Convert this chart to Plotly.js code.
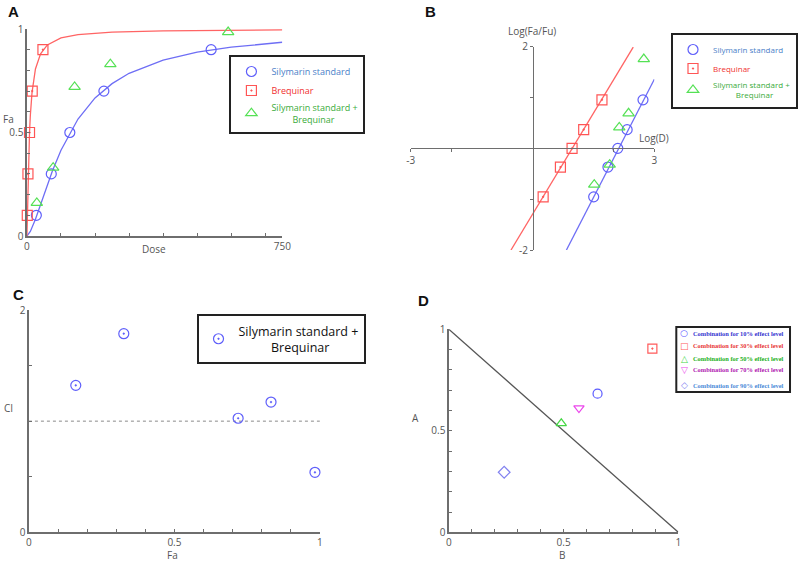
<!DOCTYPE html>
<html>
<head>
<meta charset="utf-8">
<script src="https://cdn.plot.ly/plotly-3.0.1.min.js"></script>
<style>html,body{margin:0;padding:0;background:#fff;}#chart{width:798px;height:561px;}</style>
</head>
<body>
<div id="chart"></div>
<script>
// ---------- Panel A: dose-effect ----------
const doseSil = [27.6, 71.5, 126, 226, 541];
const faSil = [0.1, 0.3, 0.5, 0.7, 0.9];
const doseBreq = [1, 3, 7.6, 15.5, 47];
const faBreq = [0.1, 0.3, 0.5, 0.7, 0.9];
const doseCombo = [29, 77, 140, 245, 591];
const faCombo = [0.16, 0.33, 0.72, 0.83, 0.985];
const curveDoseSil = [0, 10, 25, 50, 75, 100, 150, 200, 250, 300, 400, 500, 600, 750];
const curveFaSil = [0, 0.022, 0.081, 0.2, 0.315, 0.414, 0.565, 0.667, 0.736, 0.786, 0.85, 0.888, 0.912, 0.936];
const curveDoseBreq = [0, 0.5, 1, 2, 3, 5, 7.6, 10, 15, 25, 40, 60, 100, 150, 250, 400, 550, 750];
const curveFaBreq = [0, 0.037, 0.081, 0.168, 0.247, 0.377, 0.5, 0.582, 0.694, 0.807, 0.88, 0.923, 0.957, 0.973, 0.985, 0.991, 0.994, 0.996];

// ---------- Panel B: median-effect plot ----------
const logDSil = [1.506, 1.857, 2.10, 2.33, 2.72];
const logFaFuSil = [-0.954, -0.368, 0, 0.368, 0.954];
const logDBreq = [0.262, 0.687, 0.974, 1.26, 1.71];
const logFaFuBreq = [-0.954, -0.368, 0, 0.368, 0.954];
const logDCombo = [1.52, 1.90, 2.136, 2.365, 2.74];
const logFaFuCombo = [-0.715, -0.32, 0.413, 0.689, 1.757];
const fitLineXBreq = [-0.53, 2.48];
const fitLineYBreq = [-2, 1.99];
const fitLineXSil = [0.835, 3.0];
const fitLineYSil = [-2, 1.36];

// ---------- Panel C: CI vs Fa ----------
const faC = [0.161, 0.326, 0.719, 0.832, 0.983];
const ciC = [1.322, 1.787, 1.026, 1.172, 0.54];
const ciRefX = [0, 1];
const ciRefY = [1, 1];

// ---------- Panel D: isobologram ----------
const isoNames = ['Combination for 10% effect level', 'Combination for 30% effect level',
  'Combination for 50% effect level', 'Combination for 70% effect level', 'Combination for 90% effect level'];
const isoB = [0.648, 0.887, 0.49, 0.567, 0.241];
const isoA = [0.683, 0.905, 0.537, 0.612, 0.296];
const isoLineB = [0, 1];
const isoLineA = [1, 0];

// ---------- styling ----------
const W = 798, H = 561;
const px = x => x / W;
const py = y => 1 - y / H;
const BLUE = 'rgb(95,95,250)', RED = 'rgb(255,85,85)', GREEN = 'rgb(85,225,85)';
const AXC = '#6e6e6e';
const TICKF = {family: 'Open Sans', size: 10, color: '#555'};

function ticks(vals, labelled) {
  return {tickmode: 'array', tickvals: vals,
    ticktext: vals.map(v => labelled.includes(v) ? String(v) : '')};
}
function axis(extra) {
  return Object.assign({showline: true, linecolor: AXC, linewidth: 1.5, ticks: 'inside', ticklen: 3,
    tickcolor: AXC, tickwidth: 1, showgrid: false, zeroline: false, tickfont: TICKF, fixedrange: true}, extra);
}
const tenth = [0, 0.1, 0.2, 0.3, 0.4, 0.5, 0.6, 0.7, 0.8, 0.9, 1];

const mk = (sym, color, size) => ({symbol: sym, color: color, size: size || 10, line: {color: color, width: 1.2}});
const nb = n => '\u00a0'.repeat(n);

const traces = [
  // A
  {x: curveDoseSil, y: curveFaSil, mode: 'lines', line: {color: 'rgb(110,110,245)', width: 1.3}, xaxis: 'x', yaxis: 'y', showlegend: false, hoverinfo: 'skip'},
  {x: curveDoseBreq, y: curveFaBreq, mode: 'lines', line: {color: 'rgb(255,100,100)', width: 1.3}, xaxis: 'x', yaxis: 'y', showlegend: false, hoverinfo: 'skip'},
  {x: doseSil, y: faSil, mode: 'markers', marker: mk('circle-open', BLUE), xaxis: 'x', yaxis: 'y', cliponaxis: false,
    legend: 'legend', name: '<span style="color:#4a80c8">Silymarin standard</span>'},
  {x: doseBreq, y: faBreq, mode: 'markers', marker: mk('square-open-dot', RED), xaxis: 'x', yaxis: 'y', cliponaxis: false,
    legend: 'legend', name: '<span style="color:#f03030">Brequinar</span>'},
  {x: doseCombo, y: faCombo, mode: 'markers', marker: mk('triangle-up-open', GREEN), xaxis: 'x', yaxis: 'y', cliponaxis: false,
    legend: 'legend', name: '<span style="color:#3aab3a">Silymarin standard +<br>' + nb(9) + 'Brequinar</span>'},
  // B
  {x: fitLineXBreq, y: fitLineYBreq, mode: 'lines', line: {color: 'rgb(255,100,100)', width: 1.3}, xaxis: 'x2', yaxis: 'y2', showlegend: false, hoverinfo: 'skip'},
  {x: fitLineXSil, y: fitLineYSil, mode: 'lines', line: {color: 'rgb(110,110,245)', width: 1.3}, xaxis: 'x2', yaxis: 'y2', showlegend: false, hoverinfo: 'skip'},
  {x: logDSil, y: logFaFuSil, mode: 'markers', marker: mk('circle-open', BLUE), xaxis: 'x2', yaxis: 'y2', cliponaxis: false,
    legend: 'legend2', name: '<span style="color:#4a80c8">Silymarin standard</span>'},
  {x: logDBreq, y: logFaFuBreq, mode: 'markers', marker: mk('square-open-dot', RED), xaxis: 'x2', yaxis: 'y2', cliponaxis: false,
    legend: 'legend2', name: '<span style="color:#f03030">Brequinar</span>'},
  {x: logDCombo, y: logFaFuCombo, mode: 'markers', marker: mk('triangle-up-open', GREEN), xaxis: 'x2', yaxis: 'y2', cliponaxis: false,
    legend: 'legend2', name: '<span style="color:#3aab3a">Silymarin standard +<br>' + nb(11) + 'Brequinar</span>'},
  // C
  {x: ciRefX, y: ciRefY, mode: 'lines', line: {color: '#8a8a8a', width: 1, dash: 'dot'}, xaxis: 'x3', yaxis: 'y3', showlegend: false, hoverinfo: 'skip'},
  {x: faC, y: ciC, mode: 'markers', marker: mk('circle-open-dot', BLUE), xaxis: 'x3', yaxis: 'y3', cliponaxis: false,
    legend: 'legend3', name: 'Silymarin standard +<br>' + nb(10) + 'Brequinar'},
  // D
  {x: isoLineB, y: isoLineA, mode: 'lines', line: {color: '#555', width: 1.3}, xaxis: 'x4', yaxis: 'y4', showlegend: false, hoverinfo: 'skip'}
];
const dSyms = ['circle-open', 'square-open-dot', 'triangle-up-open', 'triangle-down-open', 'diamond-open'];
const dCols = ['rgb(90,90,255)', 'rgb(255,90,90)', 'rgb(70,215,70)', 'rgb(235,70,235)', 'rgb(130,130,240)'];
const dText = ['#3434d0', '#e83434', '#20b020', '#b020b0', '#4a8ad8'];
for (let i = 0; i < isoNames.length; i++) {
  traces.push({x: [isoB[i]], y: [isoA[i]], mode: 'markers', marker: mk(dSyms[i], dCols[i], 9), xaxis: 'x4', yaxis: 'y4',
    cliponaxis: false, showlegend: false, name: isoNames[i]});
}

const legBase = {bgcolor: '#fff', bordercolor: '#222', borderwidth: 2, xanchor: 'left', yanchor: 'top',
  traceorder: 'normal', itemclick: false, itemdoubleclick: false};

const ann = [];
const put = (t, x, y, font, xa) => ann.push({text: t, x: px(x), y: py(y), xref: 'paper', yref: 'paper',
  xanchor: xa || 'center', yanchor: 'middle', showarrow: false, font: font});
const LET = {family: 'Liberation Sans', size: 15, color: '#111'};
put('<b>A</b>', 14, 11, LET); put('<b>B</b>', 432, 12, LET); put('<b>C</b>', 19, 294, LET); put('<b>D</b>', 425, 300, LET);
const TF = {family: 'Open Sans', size: 10, color: '#555'};
put('Fa', 9, 119, TF); put('Dose', 154, 249, TF);
put('Log(Fa/Fu)', 533, 31, TF); put('Log(D)', 656, 138, TF);
put('CI', 9, 408, TF); put('Fa', 173, 555, TF);
put('A', 417, 418, TF); put('B', 563, 555, TF);

// legend for D (drawn as text)
const dRowY = [333, 346, 358.5, 369.5, 385];
const dGlyph = ['\u25cb', '\u25a1', '\u25b3', '\u25bd', '\u25c7'];
for (let i = 0; i < isoNames.length; i++) {
  put(dGlyph[i], 686, dRowY[i], {family: 'DejaVu Sans', size: 9, color: dCols[i]});
  put('<b>' + isoNames[i] + '</b>', 693, dRowY[i], {family: 'Liberation Serif', size: 6.4, color: dText[i]}, 'left');
}

const layout = {
  width: W, height: H, margin: {l: 0, r: 0, t: 0, b: 0}, paper_bgcolor: '#fff', plot_bgcolor: 'rgba(0,0,0,0)',
  showlegend: true, font: {family: 'Open Sans'},
  xaxis: axis(Object.assign({domain: [px(27), px(283)], range: [0, 750], anchor: 'y'}, ticks([0, 100, 200, 300, 400, 500, 600, 700, 750], [0, 750]))),
  yaxis: axis(Object.assign({domain: [py(236), py(29)], range: [0, 1], anchor: 'x'}, ticks(tenth, [0, 0.5, 1]))),
  xaxis2: axis(Object.assign({domain: [px(411.7), px(656)], range: [-3, 3], anchor: 'free', position: py(147.7), ticks: 'outside', ticklen: 3},
    ticks([-3, -2, 2, 3], [-3, 3]))),
  yaxis2: axis(Object.assign({domain: [py(250), py(46.7)], range: [-2, 2], anchor: 'free', position: px(534.3), ticks: 'outside', ticklen: 3},
    ticks([-2, -1, 1, 2], [-2, 2]))),
  xaxis3: axis(Object.assign({domain: [px(29), px(320.7)], range: [0, 1], anchor: 'y3'}, ticks(tenth, [0, 0.5, 1]))),
  yaxis3: axis(Object.assign({domain: [py(532.3), py(310)], range: [0, 2], anchor: 'x3'}, ticks([0, 0.5, 1, 1.5, 2], [0, 2]))),
  xaxis4: axis(Object.assign({domain: [px(450), px(680)], range: [0, 1], anchor: 'y4'}, ticks(tenth, [0, 0.5, 1]))),
  yaxis4: axis(Object.assign({domain: [py(532.3), py(329.3)], range: [0, 1], anchor: 'x4'}, ticks(tenth, [0, 0.5, 1]))),
  legend: Object.assign({}, legBase, {x: px(230), y: py(55), font: {family: 'Open Sans', size: 9}}),
  legend2: Object.assign({}, legBase, {x: px(673), y: py(33), font: {family: 'Open Sans', size: 8}}),
  legend3: Object.assign({}, legBase, {x: px(197), y: py(314), font: {family: 'Open Sans', size: 12.5, color: '#111'}}),
  shapes: [{type: 'rect', xref: 'paper', yref: 'paper', x0: px(678), x1: px(792), y0: py(392), y1: py(327),
    line: {color: '#222', width: 2}, fillcolor: '#fff', layer: 'below'}],
  annotations: ann
};
Plotly.newPlot('chart', traces, layout, {staticPlot: true, displayModeBar: false});
</script>
</body>
</html>
